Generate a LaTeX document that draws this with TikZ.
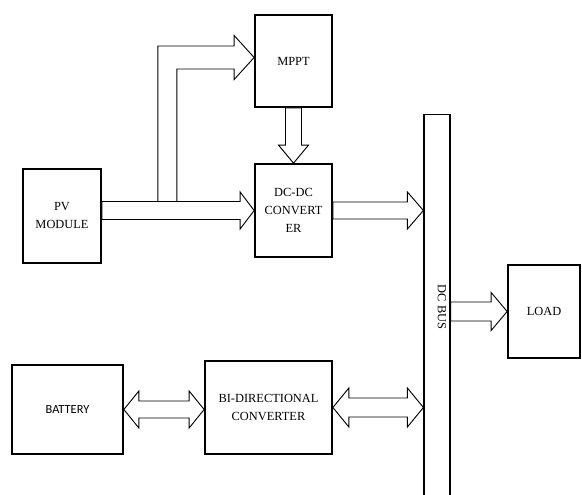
\documentclass[tikz,border=0pt]{standalone}
\usepackage{fontspec}
\setmainfont{Liberation Serif}
\newfontfamily\battfont{Carlito}
\usetikzlibrary{calc}

\tikzset{
  blockbox/.style={draw, line width=1.3pt, align=center, inner sep=2pt},
  boxsize/.style 2 args={minimum width=#1*0.75pt, minimum height=#2*0.75pt},
  hollow/.style={draw, line width=0.7pt, fill=white, line join=miter}
}

%% hollow arrow, tail (#1) and tip (#2) on one level; half shaft, half head, head length
\newcommand{\hollowarrow}[5]{%
  \draw[hollow] ($(#1)+(0,-#3)$) -- ($(#2)+(-#5,-#3)$) -- ($(#2)+(-#5,-#4)$) -- (#2)
    -- ($(#2)+(-#5,#4)$) -- ($(#2)+(-#5,#3)$) -- ($(#1)+(0,#3)$) -- cycle;}
%% hollow arrow with two heads, left tip (#1) and right tip (#2)
\newcommand{\hollowdouble}[5]{%
  \draw[hollow] (#1) -- ($(#1)+(#5,-#4)$) -- ($(#1)+(#5,-#3)$) -- ($(#2)+(-#5,-#3)$)
    -- ($(#2)+(-#5,-#4)$) -- (#2) -- ($(#2)+(-#5,#4)$) -- ($(#2)+(-#5,#3)$)
    -- ($(#1)+(#5,#3)$) -- ($(#1)+(#5,#4)$) -- cycle;}

\begin{document}
\begin{tikzpicture}[x=0.75pt, y=-0.75pt, font=\fontsize{9.3}{13.5}\selectfont]
  \useasboundingbox (0,0) rectangle (582,495);

  %% Blocks
  \node[blockbox, boxsize={78}{94}]  (pv)    at (62,216)      {PV\\MODULE};
  \node[blockbox, boxsize={77}{92}]  (mppt)  at (293.5,61)    {MPPT};
  \node[blockbox, boxsize={77}{93}]  (dcdc)  at (293.5,210.5) {DC-DC\\CONVERT\\ER};
  \node[blockbox, boxsize={72}{93}]  (load)  at (544,311.5)   {LOAD};
  \node[blockbox, boxsize={111}{89}] (batt)  at (67.5,409.5)  {\battfont BATTERY};
  \node[blockbox, boxsize={127}{93}] (bidir) at (268.5,407.5) {BI-DIRECTIONAL\\CONVERTER};

  %% DC bus bar (runs off the bottom)
  \node[draw, line width=0.9pt, boxsize={26}{390}, anchor=north] (bus) at (437,114) {};
  \node[rotate=-90] (buslabel) at (442,307) {DC BUS};

  %% PV -> DC-DC, with branch up to MPPT
  \hollowarrow{pv.east |- dcdc.west}{dcdc.west}{9}{18.5}{14}
  \coordinate (mt) at ($(mppt.west)+(0,-3.5)$);
  \coordinate (b0) at ($(pv.east |- dcdc.west)+(56,-9)$);
  \coordinate (bt) at ($(mt)+(0,-11.5)$);
  \coordinate (bb) at ($(mt)+(0,11.5)$);
  \draw[hollow] (b0) -- (b0 |- bt) -- ($(mt)+(-20,-11.5)$) -- ($(mt)+(-20,-22)$) -- (mt)
    -- ($(mt)+(-20,22)$) -- ($(mt)+(-20,11.5)$) -- ($(b0 |- bb)+(19,0)$) -- ($(b0)+(19,0)$) -- cycle;

  %% MPPT -> DC-DC
  \draw[hollow] ($(mppt.south)+(-8,0)$) -- ($(dcdc.north)+(-8,-18)$) -- ($(dcdc.north)+(-15,-18)$)
    -- (dcdc.north) -- ($(dcdc.north)+(15,-18)$) -- ($(dcdc.north)+(8,-18)$) -- ($(mppt.south)+(8,0)$) -- cycle;

  %% DC-DC -> bus, bus -> load
  \hollowarrow{dcdc.east}{bus.west |- dcdc.east}{8.5}{18.5}{16}
  \hollowarrow{bus.east |- load.west}{load.west}{9.5}{19}{16}

  %% Battery <-> converter <-> bus
  \hollowdouble{batt.east}{bidir.west |- batt.east}{8.5}{18.5}{15}
  \hollowdouble{bidir.east}{bus.west |- bidir.east}{9.5}{19.5}{16}
\end{tikzpicture}
\end{document}
